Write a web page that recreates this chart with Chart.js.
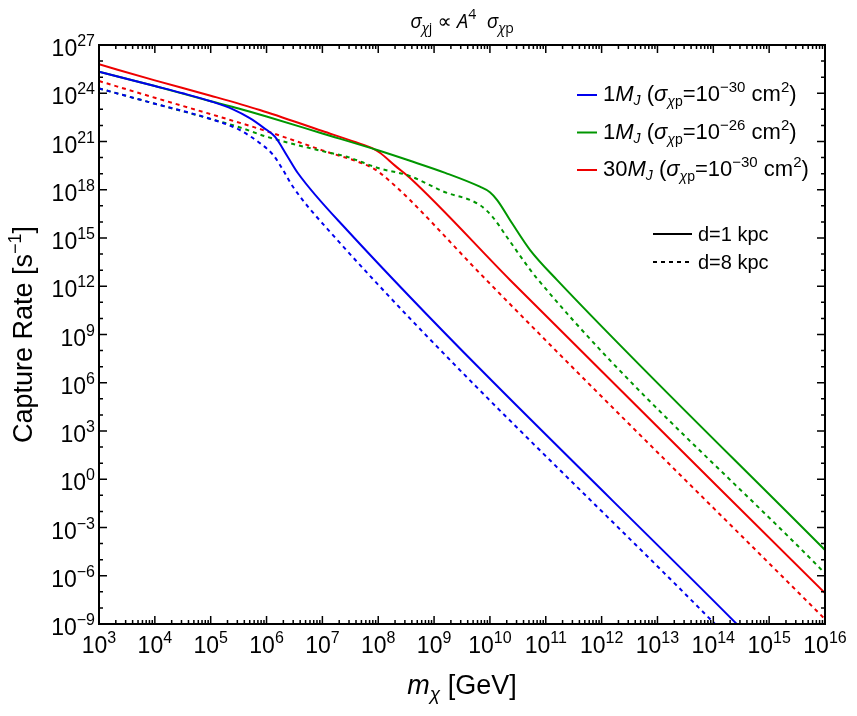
<!DOCTYPE html>
<html>
<head>
<meta charset="utf-8">
<script src="https://cdn.jsdelivr.net/npm/chart.js@4/dist/chart.umd.min.js"></script>
<style>
  body { margin: 0; background: #fff; }
  canvas { display: block; }
</style>
</head>
<body>
<canvas id="chart" width="857" height="716" style="width:857px;height:716px"></canvas>
<script>
// values are log10 of mass [GeV] and log10 of capture rate [1/s]
const blueNearM    = [3, 4, 4.5, 5, 5.4, 5.7, 5.95, 6.15, 6.37, 6.56, 7.44, 14.6];
const blueNearRate = [25.34, 24.45, 24.0, 23.5, 23.0, 22.45, 21.85, 21.3, 20.1, 19.04, 15.5, -9.63];
const blueFarM     = [3, 4, 5, 5.5, 5.88, 6.12, 6.3, 6.47, 7.08, 14.2];
const blueFarRate  = [24.3, 23.35, 22.4, 21.75, 20.9, 20.16, 19.2, 18.2, 15.6, -9.6];

const greenNearM    = [3, 4, 5, 5.5, 6, 7, 7.98, 8.57, 9.2, 9.82, 10.0, 10.13, 10.4, 10.72, 11.2, 16];
const greenNearRate = [25.34, 24.45, 23.5, 23.05, 22.55, 21.5, 20.47, 19.8, 19.05, 18.19, 17.85, 17.36, 15.9, 14.25, 12.4, -4.4];
const greenFarM     = [3, 4, 5, 5.5, 6, 7, 7.44, 8, 8.57, 9.16, 9.82, 10.05, 10.3, 10.84, 16];
const greenFarRate  = [24.3, 23.35, 22.4, 21.9, 21.3, 20.4, 20.05, 19.35, 18.85, 17.9, 17.05, 16.3, 15.08, 12.5, -5.85];

const redNearM    = [3, 4, 5, 5.88, 7, 7.6, 7.9, 8.03, 8.3, 8.57, 10.36, 16];
const redNearRate = [25.8, 24.8, 23.85, 22.96, 21.65, 20.95, 20.57, 20.3, 19.5, 18.73, 12.39, -7.08];
const redFarM     = [3, 4, 5, 5.94, 7, 7.9, 8.03, 8.3, 8.57, 9.88, 16];
const redFarRate  = [24.76, 23.72, 22.7, 21.71, 20.45, 19.35, 19.05, 18.25, 17.36, 12.59, -8.7];

const xTickExps = [3, 4, 5, 6, 7, 8, 9, 10, 11, 12, 13, 14, 15, 16];
const yTickExps = [-9, -6, -3, 0, 3, 6, 9, 12, 15, 18, 21, 24, 27];

const BLUE = 'rgb(0,0,238)';
const GREEN = 'rgb(0,150,0)';
const RED = 'rgb(238,0,0)';
const FONT = '"Liberation Sans", Arial, sans-serif';

function toPoints(ms, rates) {
    return ms.map((m, i) => ({ x: Math.pow(10, m), y: Math.pow(10, rates[i]) }));
}

function series(ms, rates, color, dashed) {
    return {
        data: toPoints(ms, rates),
        borderColor: color,
        borderWidth: 2,
        borderDash: dashed ? [4, 4] : [],
        pointRadius: 0,
        fill: false,
        cubicInterpolationMode: 'monotone'
    };
}

// draws a run of text pieces: {t, s (size), i (italic), dy (baseline shift)}
function richWidth(ctx, parts, family) {
    let w = 0;
    for (const p of parts) {
        ctx.font = (p.i ? 'italic ' : '') + p.s + 'px ' + (p.f || family);
        w += ctx.measureText(p.t).width;
    }
    return w;
}

function drawRich(ctx, parts, x, y, align, family) {
    const w = richWidth(ctx, parts, family);
    let cx = x;
    if (align === 'center') cx = x - w / 2;
    if (align === 'right') cx = x - w;
    ctx.textAlign = 'left';
    ctx.textBaseline = 'alphabetic';
    for (const p of parts) {
        ctx.font = (p.i ? 'italic ' : '') + p.s + 'px ' + (p.f || family);
        ctx.fillText(p.t, cx, y + (p.dy || 0));
        cx += ctx.measureText(p.t).width;
    }
}

function powLabel(exp) {
    const e = String(exp).replace('-', '\u2212');
    return [{ t: '10', s: 23 }, { t: e, s: 16, dy: -10 }];
}

const decorations = {
    id: 'decorations',
    beforeDraw(chart) {
        const ctx = chart.ctx;
        ctx.save();
        ctx.fillStyle = '#fff';
        ctx.fillRect(0, 0, chart.width, chart.height);
        ctx.restore();
    },
    afterDraw(chart) {
        const { ctx, chartArea: a, scales } = chart;
        const xs = scales.x, ys = scales.y;
        ctx.save();
        ctx.strokeStyle = '#000';
        ctx.fillStyle = '#000';

        // ticks, pointing inward on all four sides
        ctx.lineWidth = 1.5;
        ctx.beginPath();
        for (let n = 3; n <= 16; n++) {
            const px = xs.getPixelForValue(Math.pow(10, n));
            ctx.moveTo(px, a.bottom); ctx.lineTo(px, a.bottom - 8);
            ctx.moveTo(px, a.top); ctx.lineTo(px, a.top + 8);
            if (n < 16) {
                for (let k = 2; k <= 9; k++) {
                    const mx = xs.getPixelForValue(k * Math.pow(10, n));
                    ctx.moveTo(mx, a.bottom); ctx.lineTo(mx, a.bottom - 4);
                    ctx.moveTo(mx, a.top); ctx.lineTo(mx, a.top + 4);
                }
            }
        }
        for (let n = -9; n <= 27; n++) {
            const py = ys.getPixelForValue(Math.pow(10, n));
            const len = (n % 3 === 0) ? 8 : 4;
            ctx.moveTo(a.left, py); ctx.lineTo(a.left + len, py);
            ctx.moveTo(a.right, py); ctx.lineTo(a.right - len, py);
        }
        ctx.stroke();

        // frame
        ctx.lineWidth = 2;
        ctx.strokeRect(a.left, a.top, a.right - a.left, a.bottom - a.top);

        // tick labels
        for (const e of xTickExps) {
            const px = xs.getPixelForValue(Math.pow(10, e));
            drawRich(ctx, powLabel(e), px, a.bottom + 29, 'center', FONT);
        }
        for (const e of yTickExps) {
            const py = ys.getPixelForValue(Math.pow(10, e));
            drawRich(ctx, powLabel(e), a.left - 4, py + 11, 'right', FONT);
        }

        // axis titles
        drawRich(ctx, [
            { t: 'm', s: 27, i: true },
            { t: '\u03c7', s: 19, i: true, dy: 6 },
            { t: ' [GeV]', s: 27 }
        ], (a.left + a.right) / 2, 694, 'center', FONT);

        ctx.save();
        ctx.translate(32, (a.top + a.bottom) / 2);
        ctx.rotate(-Math.PI / 2);
        drawRich(ctx, [
            { t: 'Capture Rate [s', s: 27 },
            { t: '\u22121', s: 18, dy: -11 },
            { t: ']', s: 27 }
        ], 0, 0, 'center', FONT);
        ctx.restore();

        // title
        const TF = '"Open Sans", "DejaVu Sans", sans-serif';
        drawRich(ctx, [
            { t: '\u03c3', s: 20, i: true },
            { t: '\u03c7', s: 14, i: true, dy: 5 },
            { t: 'j', s: 14, dy: 5 },
            { t: ' \u221d ', s: 20 },
            { t: 'A', s: 20, i: true },
            { t: '4', s: 14, dy: -9 },
            { t: '  ', s: 20 },
            { t: '\u03c3', s: 20, i: true },
            { t: '\u03c7', s: 14, i: true, dy: 5 },
            { t: 'p', s: 14, dy: 5 }
        ], (a.left + a.right) / 2, 28, 'center', TF);

        // legend: mass and cross section
        const rows = [
            { c: BLUE, mass: '1', xs: '\u221230' },
            { c: GREEN, mass: '1', xs: '\u221226' },
            { c: RED, mass: '30', xs: '\u221230' }
        ];
        rows.forEach((r, i) => {
            const by = 101 + i * 37.5;
            ctx.strokeStyle = r.c;
            ctx.lineWidth = 2;
            ctx.setLineDash([]);
            ctx.beginPath();
            ctx.moveTo(577, by - 6); ctx.lineTo(597, by - 6);
            ctx.stroke();
            ctx.fillStyle = '#000';
            drawRich(ctx, [
                { t: r.mass, s: 22 },
                { t: 'M', s: 22, i: true },
                { t: 'J', s: 14, i: true, dy: 4 },
                { t: ' (', s: 22 },
                { t: '\u03c3', s: 22, i: true },
                { t: '\u03c7', s: 14, i: true, dy: 5 },
                { t: 'p', s: 14, dy: 5 },
                { t: '=10', s: 22 },
                { t: r.xs, s: 15, dy: -9 },
                { t: ' cm', s: 22 },
                { t: '2', s: 15, dy: -9 },
                { t: ')', s: 22 }
            ], 603, by, 'left', FONT);
        });

        // legend: distance
        ctx.strokeStyle = '#000';
        ctx.lineWidth = 2;
        ctx.beginPath();
        ctx.moveTo(653, 234); ctx.lineTo(692, 234);
        ctx.stroke();
        ctx.setLineDash([4, 4]);
        ctx.beginPath();
        ctx.moveTo(653, 262); ctx.lineTo(692, 262);
        ctx.stroke();
        ctx.setLineDash([]);
        ctx.fillStyle = '#000';
        ctx.font = '20px ' + FONT;
        ctx.textAlign = 'left';
        ctx.textBaseline = 'alphabetic';
        ctx.fillText('d=1 kpc', 698, 241);
        ctx.fillText('d=8 kpc', 698, 269);

        ctx.restore();
    }
};

new Chart(document.getElementById('chart'), {
    type: 'line',
    data: {
        datasets: [
            series(blueNearM, blueNearRate, BLUE, false),
            series(blueFarM, blueFarRate, BLUE, true),
            series(greenNearM, greenNearRate, GREEN, false),
            series(greenFarM, greenFarRate, GREEN, true),
            series(redNearM, redNearRate, RED, false),
            series(redFarM, redFarRate, RED, true)
        ]
    },
    options: {
        responsive: false,
        animation: false,
        devicePixelRatio: 1,
        layout: { padding: { top: 45, right: 32, left: 0, bottom: 0 } },
        plugins: { legend: { display: false }, tooltip: { enabled: false } },
        scales: {
            x: {
                type: 'logarithmic',
                min: 1e3,
                max: 1e16,
                grid: { display: false },
                border: { display: false },
                ticks: { display: false },
                afterFit(s) { s.height = 92; }
            },
            y: {
                type: 'logarithmic',
                min: 1e-9,
                max: 1e27,
                grid: { display: false },
                border: { display: false },
                ticks: { display: false },
                afterFit(s) { s.width = 99; }
            }
        }
    },
    plugins: [decorations]
});
</script>
</body>
</html>
